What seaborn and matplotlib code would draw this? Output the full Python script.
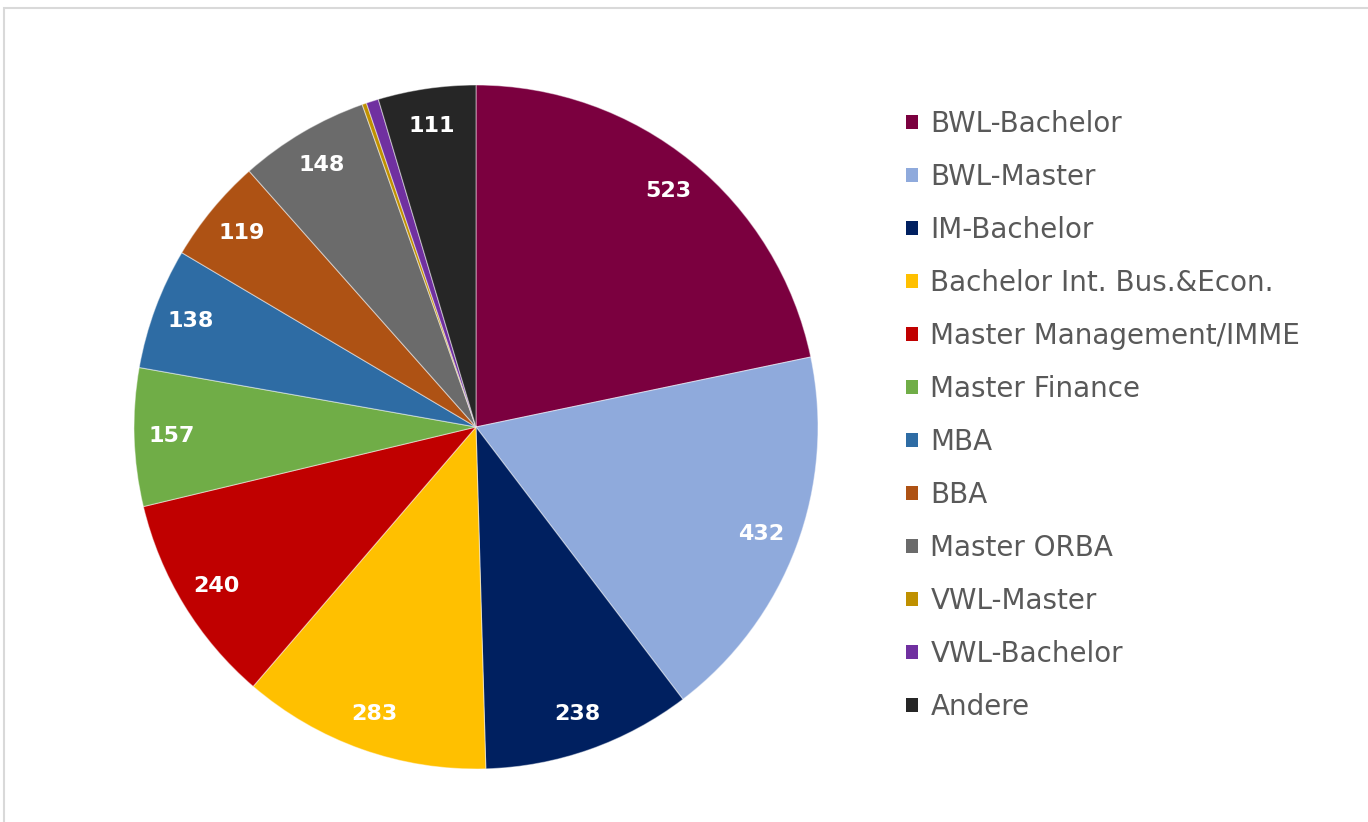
#!/usr/bin/env python3
"""Pie chart of students per study programme (Studiengang) with a square-marker legend."""
import numpy as np
import matplotlib
matplotlib.use("Agg")
import matplotlib.pyplot as plt
from matplotlib.patches import Patch, Rectangle
import seaborn as sns

programmes = ["BWL-Bachelor", "BWL-Master", "IM-Bachelor", "Bachelor Int. Bus.&Econ.",
              "Master Management/IMME", "Master Finance", "MBA", "BBA", "Master ORBA",
              "VWL-Master", "VWL-Bachelor", "Andere"]
students = [523, 432, 238, 283, 240, 157, 138, 119, 148, 5, 14, 111]
show_label = [True, True, True, True, True, True, True, True, True, False, False, True]
colors = ["#7B003F", "#8FAADC", "#002060", "#FFC000", "#C00000", "#70AD47",
          "#2E6CA4", "#AE5214", "#6B6B6B", "#BF9000", "#7030A0", "#262626"]

sns.set_theme(style="white")
plt.rcParams["font.family"] = ["DejaVu Sans"]

W, H = 1368, 822
fig = plt.figure(figsize=(W / 100, H / 100), dpi=100)
fig.patch.set_facecolor("white")

# light frame (top and left edges visible, others run off the image)
fig.patches.append(Rectangle((4 / W, -0.05), 1.2, 1 - 8 / H + 0.05, transform=fig.transFigure,
                             fill=False, edgecolor="#d9d9d9", linewidth=1.5))

cx, cy, r = 476, 427, 342
ax = fig.add_axes([(cx - r) / W, (H - cy - r) / H, 2 * r / W, 2 * r / H])
wedges, _ = ax.pie(students, colors=colors, startangle=90, counterclock=False, radius=1,
                   wedgeprops=dict(edgecolor=(1, 1, 1, 0.45), linewidth=0.8))
ax.set_xlim(-1, 1)
ax.set_ylim(-1, 1)
ax.set_aspect("equal")
ax.axis("off")

for w, val, lab in zip(wedges, students, show_label):
    if not lab:
        continue
    mid = np.deg2rad((w.theta1 + w.theta2) / 2)
    ax.text(0.89 * np.cos(mid), 0.89 * np.sin(mid), str(val), ha="center", va="center",
            color="white", fontsize=16, fontweight="bold")

handles = [Patch(facecolor=c, edgecolor="none") for c in colors]
leg = fig.legend(handles, programmes, loc="upper left", bbox_to_anchor=(906 / W, 1 - 110 / H),
                 frameon=False, fontsize=20, labelspacing=0.9, handlelength=0.43,
                 handleheight=0.43, handletextpad=0.45, borderaxespad=0, borderpad=0)
for t in leg.get_texts():
    t.set_color("#595959")

fig.savefig("out.png", dpi=100, facecolor="white")
